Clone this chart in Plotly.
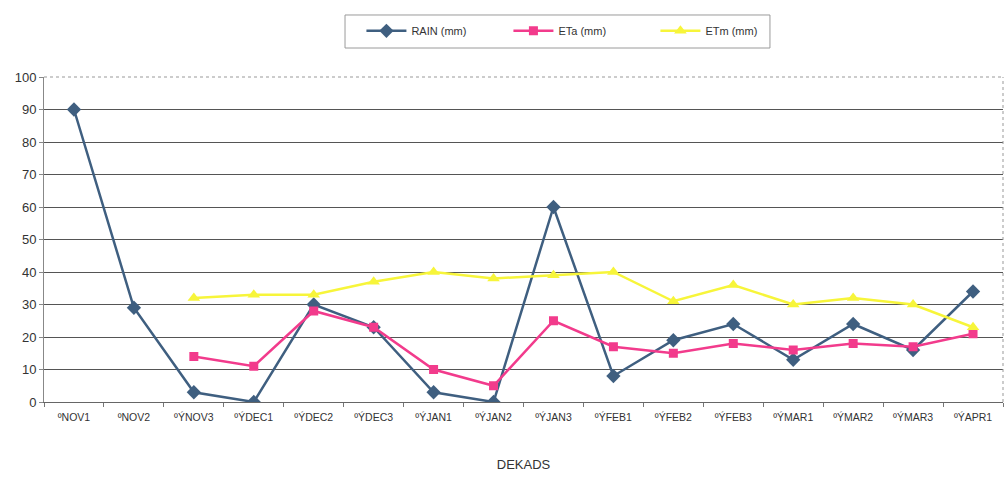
import plotly.graph_objects as go

# Ten-day periods (dekads), November to April
dekads = ["ºNOV1", "ºNOV2", "ºÝNOV3", "ºÝDEC1", "ºÝDEC2", "ºÝDEC3", "ºÝJAN1", "ºÝJAN2",
          "ºÝJAN3", "ºÝFEB1", "ºÝFEB2", "ºÝFEB3", "ºÝMAR1", "ºÝMAR2", "ºÝMAR3", "ºÝAPR1"]

rain_mm = [90, 29, 3, 0, 30, 23, 3, 0, 60, 8, 19, 24, 13, 24, 16, 34]
eta_mm = [None, None, 14, 11, 28, 23, 10, 5, 25, 17, 15, 18, 16, 18, 17, 21]
etm_mm = [None, None, 32, 33, 33, 37, 40, 38, 39, 40, 31, 36, 30, 32, 30, 23]

y_ticks = list(range(0, 101, 10))

fig = go.Figure()
fig.add_trace(go.Scatter(
    x=dekads, y=rain_mm, name="RAIN (mm)", mode="lines+markers",
    line=dict(color="#3f5f80", width=2.5),
    marker=dict(symbol="diamond", size=11, color="#3f5f80"),
))
fig.add_trace(go.Scatter(
    x=dekads, y=eta_mm, name="ETa (mm)", mode="lines+markers",
    line=dict(color="#f23b8c", width=2.5),
    marker=dict(symbol="square", size=9, color="#f23b8c"),
))
fig.add_trace(go.Scatter(
    x=dekads, y=etm_mm, name="ETm (mm)", mode="lines+markers",
    line=dict(color="#f7f53a", width=2.5),
    marker=dict(symbol="triangle-up", size=11, color="#f7f53a"),
))

fig.update_layout(
    width=1008, height=482,
    margin=dict(l=44, r=5, t=77, b=80),
    paper_bgcolor="white", plot_bgcolor="white",
    font=dict(family="Liberation Sans, Arial, sans-serif", color="#333333"),
    showlegend=True,
    legend=dict(
        orientation="h", x=0.331, xanchor="left", y=0.936, yanchor="middle",
        yref="container",
        borderwidth=0, bgcolor="rgba(0,0,0,0)",
        font=dict(size=11, color="#333333"),
        entrywidth=92, itemwidth=40,
    ),
    xaxis=dict(
        type="category", range=[-0.5, 15.5],
        showgrid=False, showline=True, linecolor="#666666", linewidth=1,
        ticks="outside", tickson="boundaries", ticklen=4, tickcolor="#777777",
        ticklabelstandoff=5,
        tickfont=dict(size=10.5, color="#333333"),
        title=dict(text="DEKADS", font=dict(size=13, color="#333333"), standoff=38),
        mirror=False,
    ),
    yaxis=dict(
        range=[0, 100], tickvals=y_ticks,
        showgrid=True, gridcolor="#555555", gridwidth=1,
        showline=True, linecolor="#888888", linewidth=1,
        ticks="outside", ticklen=4, tickcolor="#888888",
        tickfont=dict(size=13, color="#333333"),
        zeroline=False,
    ),
)

# legend frame
fig.add_shape(type="rect", xref="paper", yref="paper",
              x0=0.3139, x1=0.757, y0=1.0892, y1=1.1908,
              line=dict(color="#9a9a9a", width=1), fillcolor="rgba(0,0,0,0)")

# dotted frame on the top and right edges of the plotting area
fig.add_shape(type="line", xref="paper", yref="paper", x0=0, x1=1, y0=1, y1=1,
              line=dict(color="#999999", width=1, dash="dot"))
fig.add_shape(type="line", xref="paper", yref="paper", x0=1, x1=1, y0=0, y1=1,
              line=dict(color="#999999", width=1, dash="dot"))

fig.write_html("out.html")
